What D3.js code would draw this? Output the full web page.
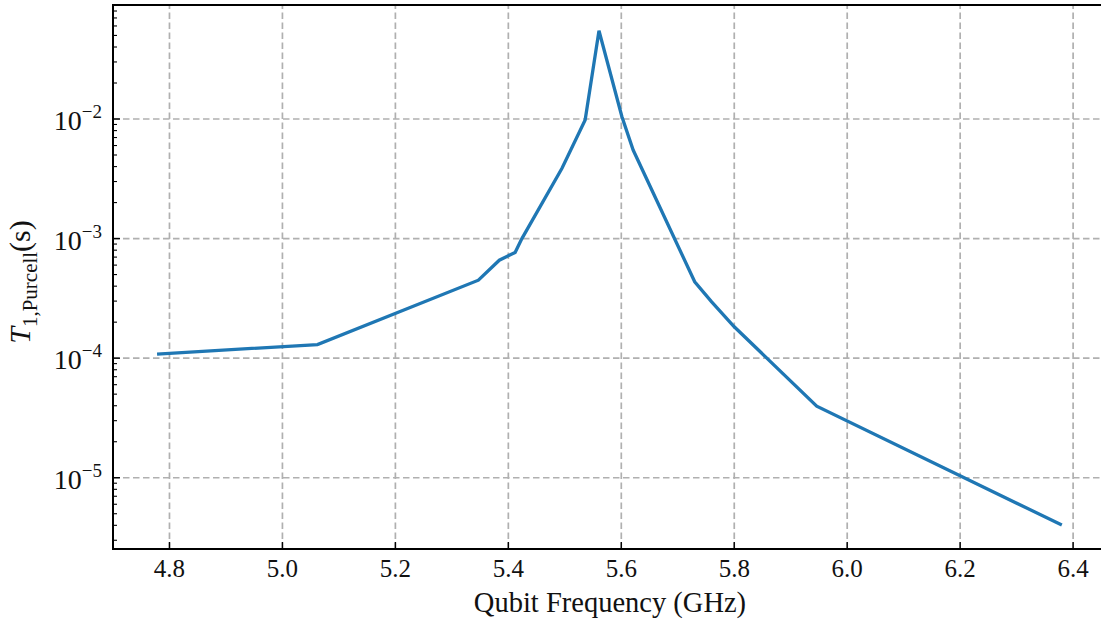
<!DOCTYPE html>
<html>
<head>
<meta charset="utf-8">
<script src="https://cdn.jsdelivr.net/npm/d3@7"></script>
<style>
  html, body { margin: 0; padding: 0; background: #fff; }
  svg { display: block; font-family: "Liberation Serif", "DejaVu Serif", serif; }
</style>
</head>
<body>
<svg id="chart" width="1101" height="619"></svg>
<script>
// Qubit frequency (GHz) and Purcell-limited T1 (s)
const freqs = [4.778, 5.062, 5.347, 5.384, 5.412, 5.424, 5.495, 5.536, 5.5605, 5.601, 5.621, 5.730, 5.760, 5.800, 5.946, 6.380];
const t1Purcell = [1.08e-4, 1.30e-4, 4.49e-4, 6.59e-4, 7.66e-4, 1.0e-3, 3.87e-3, 9.8e-3, 5.47e-2, 1.05e-2, 5.5e-3, 4.35e-4, 2.96e-4, 1.83e-4, 3.97e-5, 4.02e-6];
const xTicks = [4.8, 5.0, 5.2, 5.4, 5.6, 5.8, 6.0, 6.2, 6.4];
const yTickExps = [-5, -4, -3, -2];

const svg = d3.select("#chart");
const plotLeft = 113, plotRight = 1107, plotTop = 5, plotBottom = 549;

const x = d3.scaleLinear().domain([4.7, 6.46]).range([plotLeft, plotRight]);
const y = d3.scaleLog().domain([Math.pow(10, -5.596), Math.pow(10, -1.0466)]).range([plotBottom, plotTop]);

const clipId = "plotArea";
svg.append("defs").append("clipPath").attr("id", clipId)
  .append("rect").attr("x", plotLeft).attr("y", plotTop)
  .attr("width", plotRight - plotLeft).attr("height", plotBottom - plotTop);

// grid
const grid = svg.append("g").attr("stroke", "#b0b0b0").attr("stroke-width", 1.7)
  .attr("stroke-dasharray", "6.5,3.5").attr("fill", "none");
xTicks.forEach(v => {
  grid.append("line").attr("x1", x(v)).attr("x2", x(v)).attr("y1", plotBottom).attr("y2", plotTop);
});
yTickExps.forEach(e => {
  const yy = y(Math.pow(10, e));
  grid.append("line").attr("x1", plotLeft).attr("x2", plotRight).attr("y1", yy).attr("y2", yy);
});

// data line
const data = freqs.map((f, i) => ({ f, t: t1Purcell[i] }));
svg.append("path")
  .datum(data)
  .attr("clip-path", `url(#${clipId})`)
  .attr("fill", "none")
  .attr("stroke", "#1f77b4")
  .attr("stroke-width", 3.3)
  .attr("stroke-linejoin", "miter")
  .attr("d", d3.line().x(d => x(d.f)).y(d => y(d.t)));

// x axis ticks (inward) and labels
const axes = svg.append("g").attr("stroke", "#000");
xTicks.forEach(v => {
  axes.append("line").attr("x1", x(v)).attr("x2", x(v)).attr("y1", plotBottom).attr("y2", plotBottom - 7).attr("stroke-width", 1.4);
  svg.append("text").attr("x", x(v)).attr("y", 577).attr("text-anchor", "middle")
    .attr("font-size", 25).attr("fill", "#111").text(v.toFixed(1));
});

// y axis major and minor ticks
const [yLo, yHi] = y.domain();
for (let e = -6; e <= -1; e++) {
  for (let m = 1; m <= 9; m++) {
    const v = m * Math.pow(10, e);
    if (v < yLo || v > yHi) continue;
    const yy = y(v);
    axes.append("line").attr("x1", plotLeft).attr("x2", plotLeft + (m === 1 ? 7 : 4))
      .attr("y1", yy).attr("y2", yy).attr("stroke-width", m === 1 ? 1.4 : 1.1);
  }
}
yTickExps.forEach(e => {
  const yy = y(Math.pow(10, e));
  const t = svg.append("text").attr("x", 102).attr("y", yy + 11).attr("text-anchor", "end")
    .attr("fill", "#111").attr("font-size", 28);
  t.append("tspan").text("10");
  t.append("tspan").attr("dy", -12).attr("font-size", 19).text("\u2212" + Math.abs(e));
});

// spines
axes.append("line").attr("x1", plotLeft).attr("x2", plotLeft).attr("y1", plotTop - 1).attr("y2", plotBottom + 1).attr("stroke-width", 2);
axes.append("line").attr("x1", plotLeft - 1).attr("x2", plotRight).attr("y1", plotBottom).attr("y2", plotBottom).attr("stroke-width", 2);
axes.append("line").attr("x1", plotLeft - 1).attr("x2", plotRight).attr("y1", plotTop).attr("y2", plotTop).attr("stroke-width", 2);
axes.append("line").attr("x1", plotRight).attr("x2", plotRight).attr("y1", plotTop).attr("y2", plotBottom).attr("stroke-width", 2);

// axis titles
svg.append("text").attr("x", (plotLeft + plotRight) / 2).attr("y", 612).attr("text-anchor", "middle")
  .attr("font-size", 28.5).attr("fill", "#111").text("Qubit Frequency (GHz)");

const yl = svg.append("text").attr("transform", `translate(30, ${(plotTop + plotBottom) / 2 + 5}) rotate(-90)`)
  .attr("text-anchor", "middle").attr("font-size", 30).attr("fill", "#111");
yl.append("tspan").attr("font-style", "italic").text("T");
yl.append("tspan").attr("font-size", 21).attr("dy", 7).text("1,Purcell");
yl.append("tspan").attr("dy", -7).text("(s)");
</script>
</body>
</html>
